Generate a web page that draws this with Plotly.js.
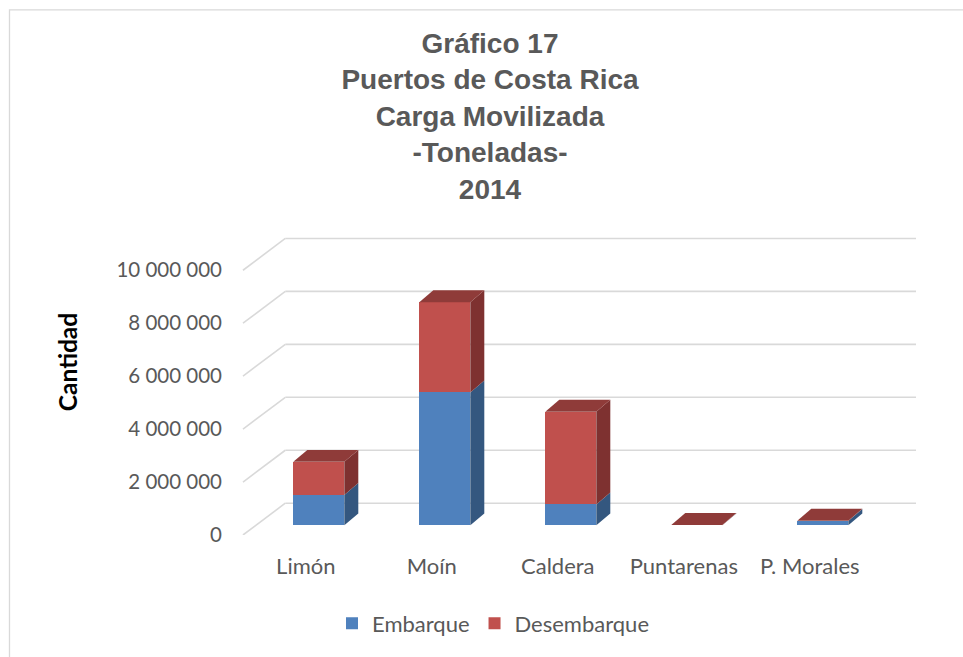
<!DOCTYPE html>
<html>
<head>
<meta charset="utf-8">
<script src="https://cdn.plot.ly/plotly-3.0.1.min.js"></script>
<style>html,body{margin:0;padding:0;background:#fff;}#chart{width:963px;height:657px;}</style>
</head>
<body>
<div id="chart"></div>
<script>
// ---- data ----
const categories = ['Limón', 'Moín', 'Caldera', 'Puntarenas', 'P. Morales'];
const embarque = [1150000, 5020000, 790000, 3000, 165000];
const desembarque = [1250000, 3410000, 3500000, 9000, 12000];
const tickValues = [0, 2000000, 4000000, 6000000, 8000000, 10000000];
const tickLabels = ['0', '2 000 000', '4 000 000', '6 000 000', '8 000 000', '10 000 000'];
const seriesNames = ['Embarque', 'Desembarque'];
const yTitle = 'Cantidad';

// ---- geometry (pixels) ----
const W = 963, H = 657;
const M = {l: 243, r: 47, t: 230, b: 120};
const pw = W - M.l - M.r, ph = H - M.t - M.b;
const kx = 126;            // px per category
const ky = 53.3 / 2000000; // px per ton
const firstCenterPx = 318.8;
const barBasePx = 527.3;
const xmin = -(firstCenterPx - M.l) / kx, xmax = xmin + pw / kx;
const ymin = -((H - M.b) - barBasePx) / ky, ymax = ymin + ph / ky;
const frontOffPx = (H - M.b) - barBasePx;   // front plane below bar plane
const backOffPx = 22.3;                      // back plane above bar plane
const backLeftPx = 42.3;                     // back plane shift to the right
const barW = 51 / kx;
const depthX = 14 / kx, depthY = 12 / ky;
const fOff = frontOffPx / ky, bOff = backOffPx / ky;

const colors = {emb: '#4F81BD', des: '#C0504D', embSide: '#34577F', desSide: '#7E3130', desTop: '#8F3B39', grid: '#D9D9D9'};

const xs = categories.map((c, i) => i);

const traces = [
  {type: 'bar', name: seriesNames[0], x: xs, y: embarque, width: barW, marker: {color: colors.emb}, hoverinfo: 'skip'},
  {type: 'bar', name: seriesNames[1], x: xs, y: desembarque, width: barW, marker: {color: colors.des}, hoverinfo: 'skip'}
];

const shapes = [];
// outer chart border
shapes.push({type: 'rect', xref: 'paper', yref: 'paper',
  x0: (9.5 - M.l) / pw, x1: (W + 20 - M.l) / pw,
  y0: ((H - M.b) - (H + 20)) / ph, y1: ((H - M.b) - 8.5) / ph,
  line: {color: '#D9D9D9', width: 1.3}, fillcolor: 'rgba(0,0,0,0)', layer: 'below'});
// 3D gridlines: front plane -> back wall
tickValues.forEach(v => {
  shapes.push({type: 'line', xref: 'paper', yref: 'y', x0: backLeftPx / pw, x1: 1, y0: v + bOff, y1: v + bOff,
    line: {color: colors.grid, width: 1.6}, layer: 'below'});
  shapes.push({type: 'line', xref: 'paper', yref: 'y', x0: 0, x1: backLeftPx / pw, y0: v - fOff, y1: v + bOff,
    line: {color: colors.grid, width: 1.6}, layer: 'below'});
});
// 3D bar faces (side and top)
function poly(pts, color) {
  return {type: 'path', xref: 'x', yref: 'y', layer: 'above', line: {width: 0}, fillcolor: color,
    path: 'M' + pts.map(p => p[0] + ',' + p[1]).join('L') + 'Z'};
}
xs.forEach((c, i) => {
  const e = embarque[i], t = embarque[i] + desembarque[i];
  const xl = c - barW / 2, xr = c + barW / 2;
  shapes.push(poly([[xr, 0], [xr + depthX, depthY], [xr + depthX, e + depthY], [xr, e]], colors.embSide));
  shapes.push(poly([[xr, e], [xr + depthX, e + depthY], [xr + depthX, t + depthY], [xr, t]], colors.desSide));
  shapes.push(poly([[xl, t], [xl + depthX, t + depthY], [xr + depthX, t + depthY], [xr, t]], colors.desTop));
});

const fam = 'Lato, "Open Sans", sans-serif';

const layout = {
  width: W, height: H,
  margin: M,
  paper_bgcolor: '#fff', plot_bgcolor: 'rgba(0,0,0,0)',
  barmode: 'stack',
  showlegend: true,
  title: {
    text: '<b>Gráfico 17<br>Puertos de Costa Rica<br>Carga Movilizada<br>-Toneladas-<br>2014</b>',
    font: {family: '"Liberation Sans", Arial, sans-serif', size: 28, color: '#595959'},
    x: 490 / W, xref: 'container', xanchor: 'center',
    y: 1 - 53 / H, yref: 'container', yanchor: 'top'
  },
  xaxis: {
    type: 'linear', range: [xmin, xmax], tickvals: xs, ticktext: categories,
    showgrid: false, zeroline: false, showline: false, ticks: '',
    tickfont: {family: fam, size: 22, color: '#595959'}, ticklabelshift: -13, ticklabelstandoff: 16, fixedrange: true
  },
  yaxis: {
    range: [ymin, ymax],
    // labels sit on the front plane, slightly below the bar plane
    tickvals: tickValues.map(v => v - fOff), ticktext: tickLabels,
    showgrid: false, zeroline: false, showline: false, ticks: '',
    tickfont: {family: fam, size: 20.5, color: '#595959'}, ticklabelstandoff: 20, fixedrange: true
  },
  annotations: [{
    text: '<b>' + yTitle + '</b>', textangle: -90, showarrow: false,
    xref: 'paper', yref: 'paper', x: (67 - M.l) / pw, y: ((H - M.b) - 363) / ph,
    xanchor: 'center', yanchor: 'middle',
    font: {family: fam, size: 24.5, color: '#000'}
  }],
  legend: {
    orientation: 'h', x: (493 - M.l) / pw, xanchor: 'center',
    y: ((H - M.b) - 626) / ph, yanchor: 'middle',
    font: {family: fam, size: 22, color: '#595959'}, traceorder: 'normal', itemclick: false
  },
  shapes: shapes
};

Plotly.newPlot('chart', traces, layout, {displayModeBar: false, staticPlot: true});
</script>
</body>
</html>
